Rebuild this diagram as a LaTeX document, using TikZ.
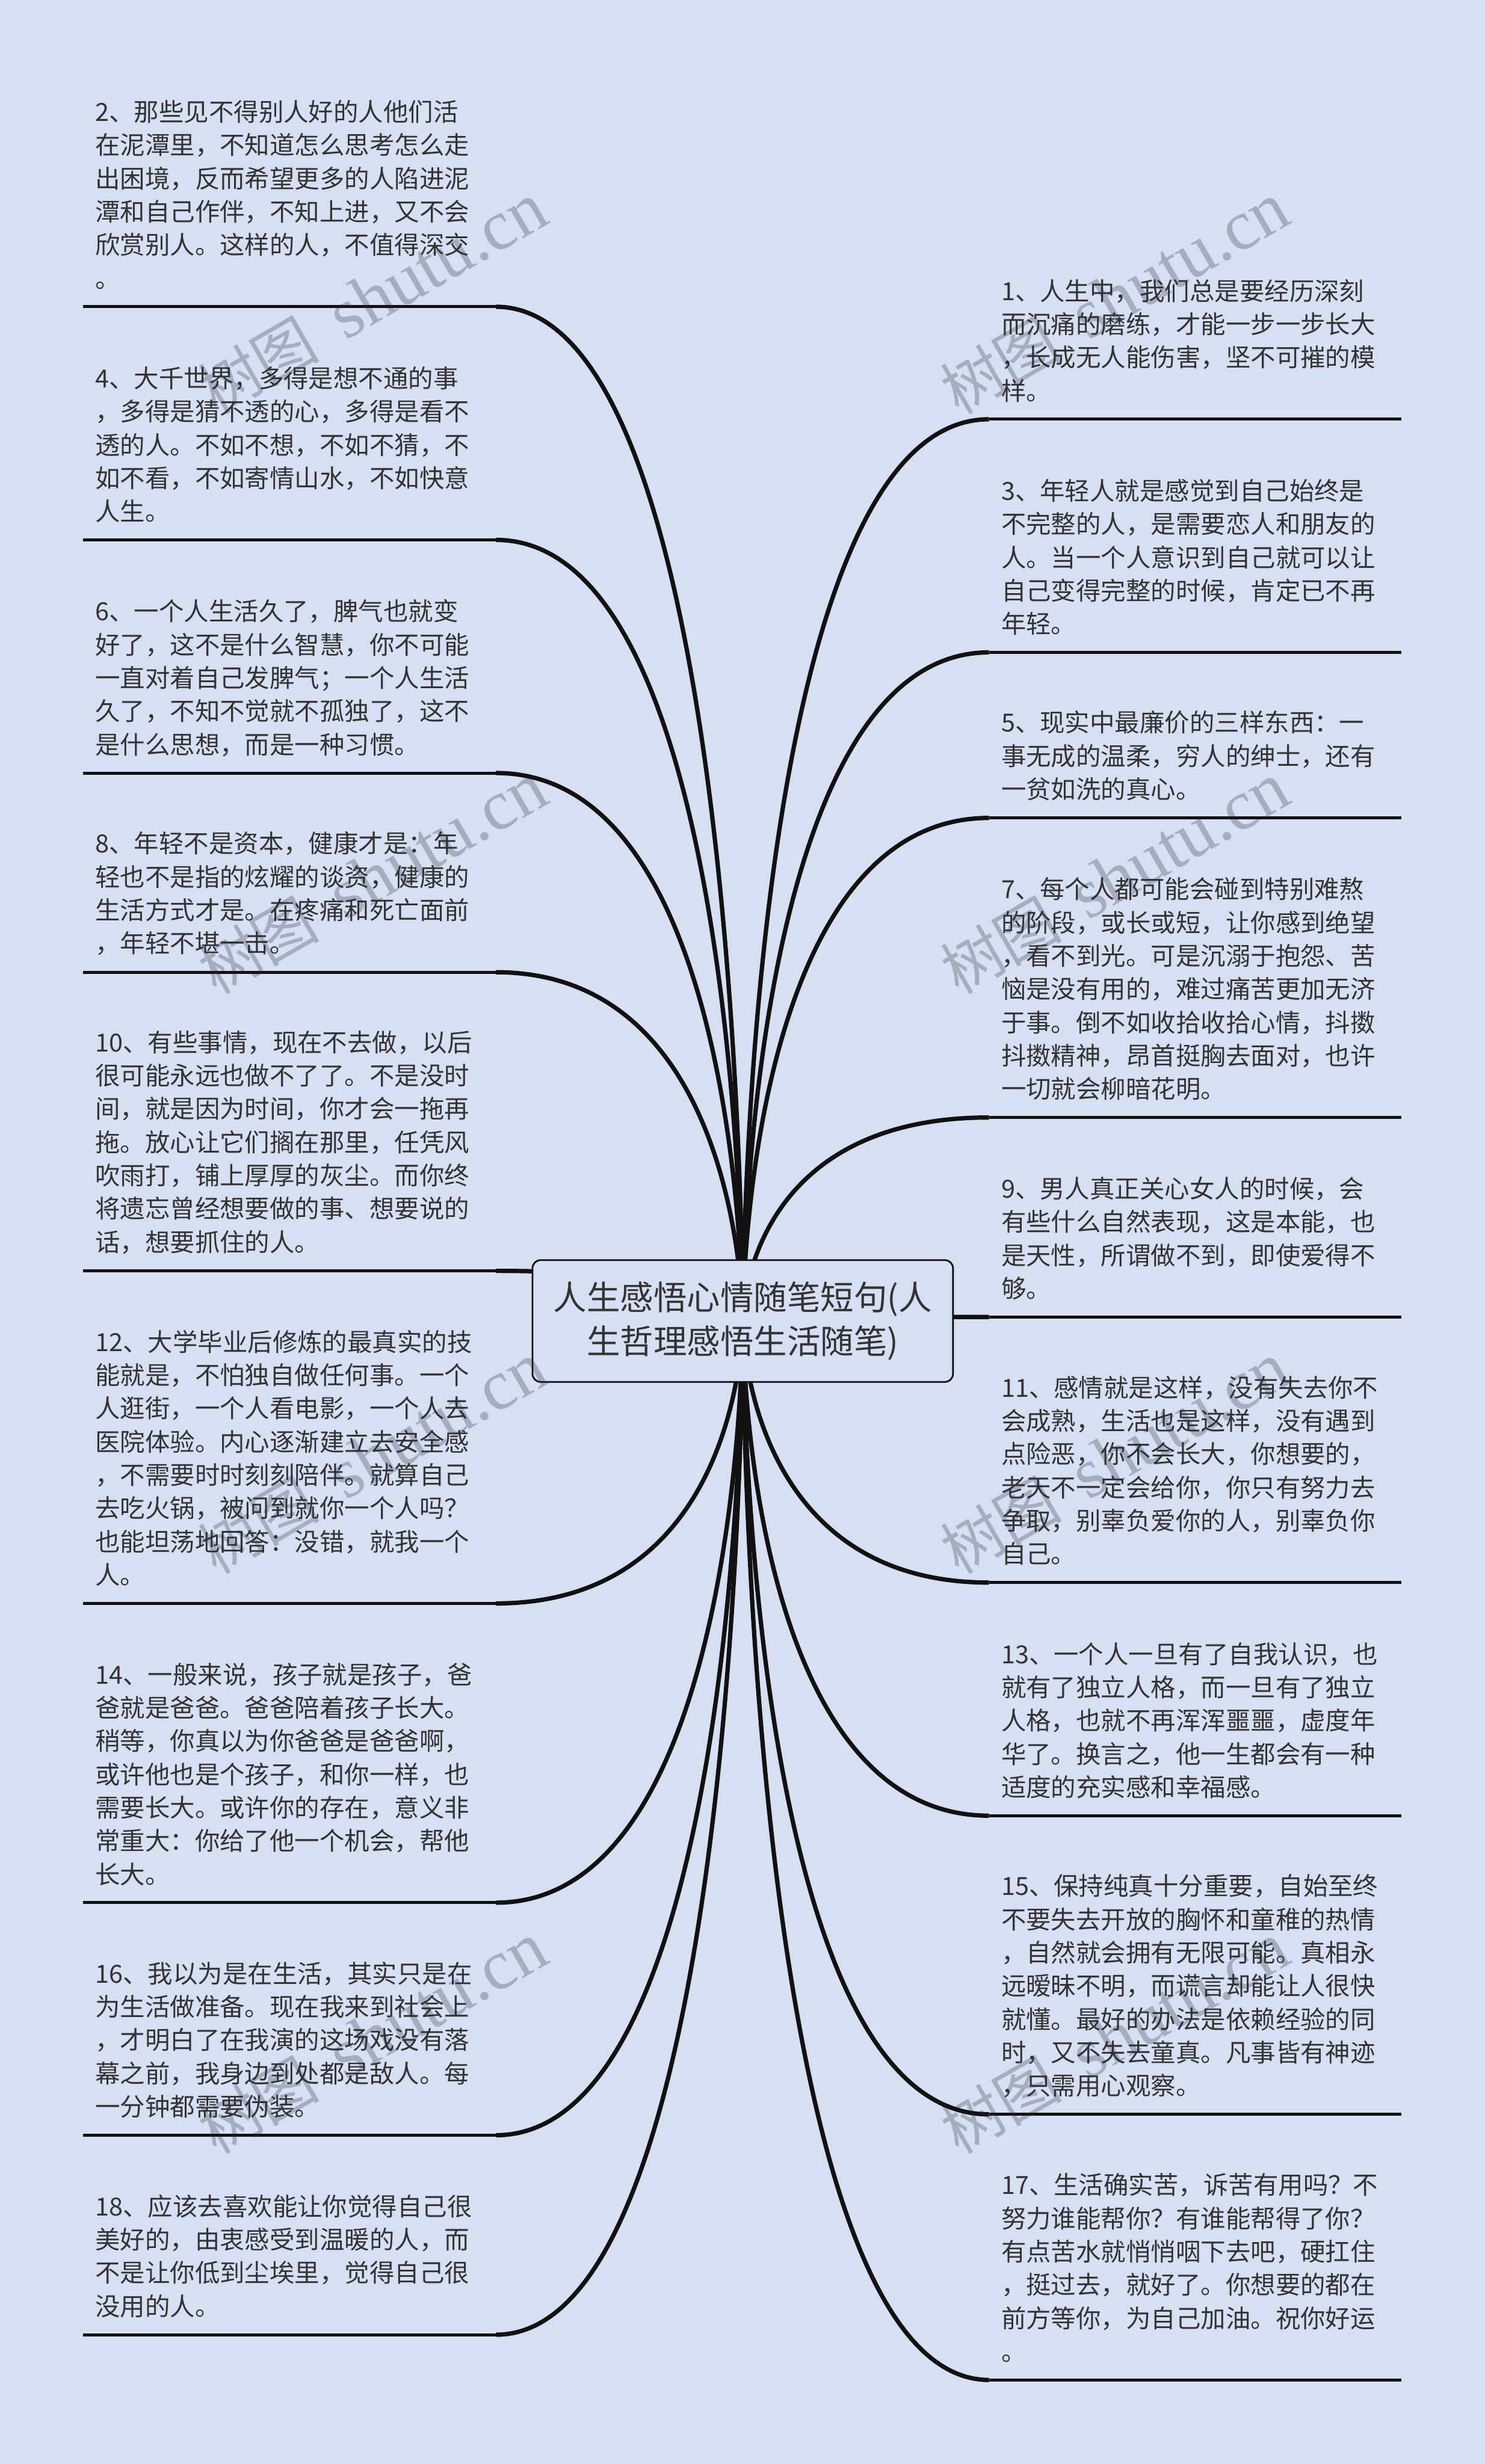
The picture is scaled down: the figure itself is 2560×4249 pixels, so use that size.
\documentclass[tikz,border=0pt]{standalone}
\usepackage{fontspec}
\setmainfont{Noto Sans CJK SC}
\newfontfamily\wmlatin{Liberation Serif}
\usetikzlibrary{backgrounds}
\definecolor{pagebg}{HTML}{D7DFF2}
\definecolor{inkc}{HTML}{333333}
\definecolor{linec}{HTML}{111111}
\definecolor{wmc}{HTML}{1F2739}
\tikzset{
  leaftext/.style={anchor=base west,inner sep=0pt,text=inkc,font=\fontsize{43pt}{57.4pt}\selectfont},
  rootbox/.style={draw=linec,line width=3pt,fill=pagebg,rounded corners=14pt,minimum width=725pt,minimum height=210pt,inner sep=0pt,align=center,text=inkc,font=\fontsize{57.6pt}{76pt}\selectfont},
  branch/.style={draw=linec,line width=7.5pt},
  under/.style={draw=linec,line width=5.2pt},
  wmark/.style={rotate=30,text=wmc,text opacity=.27,inner sep=0pt}
}
\newcommand{\lines}[1]{\parbox[b]{800pt}{#1}}
\begin{document}
\begin{tikzpicture}[x=1pt,y=-1pt]
\useasboundingbox (0,0) rectangle (2560,4249);
\begin{scope}[on background layer]
\fill[pagebg] (0,0) rectangle (2560,4249);
\end{scope}
\node[rootbox] (root) at (1280.5,2278) {人生感悟心情随笔短句(人\\生哲理感悟生活随笔)};

% left leaves
\node[leaftext] (t2) at (164,496) {\lines{2、那些见不得别人好的人他们活\\在泥潭里，不知道怎么思考怎么走\\出困境，反而希望更多的人陷进泥\\潭和自己作伴，不知上进，又不会\\欣赏别人。这样的人，不值得深交\\。}};
\node[leaftext] (t4) at (164,898) {\lines{4、大千世界，多得是想不通的事\\，多得是猜不透的心，多得是看不\\透的人。不如不想，不如不猜，不\\如不看，不如寄情山水，不如快意\\人生。}};
\node[leaftext] (t6) at (164,1300) {\lines{6、一个人生活久了，脾气也就变\\好了，这不是什么智慧，你不可能\\一直对着自己发脾气；一个人生活\\久了，不知不觉就不孤独了，这不\\是什么思想，而是一种习惯。}};
\node[leaftext] (t8) at (164,1643) {\lines{8、年轻不是资本，健康才是：年\\轻也不是指的炫耀的谈资，健康的\\生活方式才是。在疼痛和死亡面前\\，年轻不堪一击。}};
\node[leaftext] (t10) at (164,2158) {\lines{10、有些事情，现在不去做，以后\\很可能永远也做不了了。不是没时\\间，就是因为时间，你才会一拖再\\拖。放心让它们搁在那里，任凭风\\吹雨打，铺上厚厚的灰尘。而你终\\将遗忘曾经想要做的事、想要说的\\话，想要抓住的人。}};
\node[leaftext] (t12) at (164,2732) {\lines{12、大学毕业后修炼的最真实的技\\能就是，不怕独自做任何事。一个\\人逛街，一个人看电影，一个人去\\医院体验。内心逐渐建立去安全感\\，不需要时时刻刻陪伴。就算自己\\去吃火锅，被问到就你一个人吗？\\也能坦荡地回答：没错，就我一个\\人。}};
\node[leaftext] (t14) at (164,3248) {\lines{14、一般来说，孩子就是孩子，爸\\爸就是爸爸。爸爸陪着孩子长大。\\稍等，你真以为你爸爸是爸爸啊，\\或许他也是个孩子，和你一样，也\\需要长大。或许你的存在，意义非\\常重大：你给了他一个机会，帮他\\长大。}};
\node[leaftext] (t16) at (164,3649) {\lines{16、我以为是在生活，其实只是在\\为生活做准备。现在我来到社会上\\，才明白了在我演的这场戏没有落\\幕之前，我身边到处都是敌人。每\\一分钟都需要伪装。}};
\node[leaftext] (t18) at (164,3993) {\lines{18、应该去喜欢能让你觉得自己很\\美好的，由衷感受到温暖的人，而\\不是让你低到尘埃里，觉得自己很\\没用的人。}};

% right leaves
\node[leaftext] (t1) at (1726,690) {\lines{1、人生中，我们总是要经历深刻\\而沉痛的磨练，才能一步一步长大\\，长成无人能伤害，坚不可摧的模\\样。}};
\node[leaftext] (t3) at (1726,1092) {\lines{3、年轻人就是感觉到自己始终是\\不完整的人，是需要恋人和朋友的\\人。当一个人意识到自己就可以让\\自己变得完整的时候，肯定已不再\\年轻。}};
\node[leaftext] (t5) at (1726,1377) {\lines{5、现实中最廉价的三样东西：一\\事无成的温柔，穷人的绅士，还有\\一贫如洗的真心。}};
\node[leaftext] (t7) at (1726,1894) {\lines{7、每个人都可能会碰到特别难熬\\的阶段，或长或短，让你感到绝望\\，看不到光。可是沉溺于抱怨、苦\\恼是没有用的，难过痛苦更加无济\\于事。倒不如收拾收拾心情，抖擞\\抖擞精神，昂首挺胸去面对，也许\\一切就会柳暗花明。}};
\node[leaftext] (t9) at (1726,2238) {\lines{9、男人真正关心女人的时候，会\\有些什么自然表现，这是本能，也\\是天性，所谓做不到，即使爱得不\\够。}};
\node[leaftext] (t11) at (1726,2696) {\lines{11、感情就是这样，没有失去你不\\会成熟，生活也是这样，没有遇到\\点险恶，你不会长大，你想要的，\\老天不一定会给你，你只有努力去\\争取，别辜负爱你的人，别辜负你\\自己。}};
\node[leaftext] (t13) at (1726,3098) {\lines{13、一个人一旦有了自我认识，也\\就有了独立人格，而一旦有了独立\\人格，也就不再浑浑噩噩，虚度年\\华了。换言之，他一生都会有一种\\适度的充实感和幸福感。}};
\node[leaftext] (t15) at (1726,3613) {\lines{15、保持纯真十分重要，自始至终\\不要失去开放的胸怀和童稚的热情\\，自然就会拥有无限可能。真相永\\远暧昧不明，而谎言却能让人很快\\就懂。最好的办法是依赖经验的同\\时，又不失去童真。凡事皆有神迹\\，只需用心观察。}};
\node[leaftext] (t17) at (1726,4071) {\lines{17、生活确实苦，诉苦有用吗？不\\努力谁能帮你？有谁能帮得了你？\\有点苦水就悄悄咽下去吧，硬扛住\\，挺过去，就好了。你想要的都在\\前方等你，为自己加油。祝你好运\\。}};

% connectors
\begin{scope}[on background layer]
\foreach \n/\y in {2/529,4/931,6/1333,8/1676.5,10/2191.5,12/2765,14/3281,16/3682,18/4026}{
  \coordinate (e\n) at (855,\y);
  \coordinate (f\n) at (143,\y);
  \draw[branch] (root.center) .. controls (root.center) and (root.center |- e\n) .. (e\n);
  \draw[under] (e\n) -- (f\n);
}
\foreach \n/\y in {1/723,3/1125,5/1410.5,7/1927,9/2271,11/2729,13/3131,15/3646,17/4104}{
  \coordinate (e\n) at (1705,\y);
  \coordinate (f\n) at (2416,\y);
  \draw[branch] (root.center) .. controls (root.center) and (root.center |- e\n) .. (e\n);
  \draw[under] (e\n) -- (f\n);
}
\end{scope}

% watermarks
\foreach \k/\cx in {0/642,1/1922}{
  \foreach \j/\cy in {0/515,1/1515,2/2515,3/3515}{
    \node[wmark] (wm\k\j) at (\cx,\cy) {\fontsize{105pt}{110pt}\selectfont 树图\,\wmlatin\fontsize{122pt}{122pt}\selectfont\ shutu.cn};
  }
}
\end{tikzpicture}
\end{document}
